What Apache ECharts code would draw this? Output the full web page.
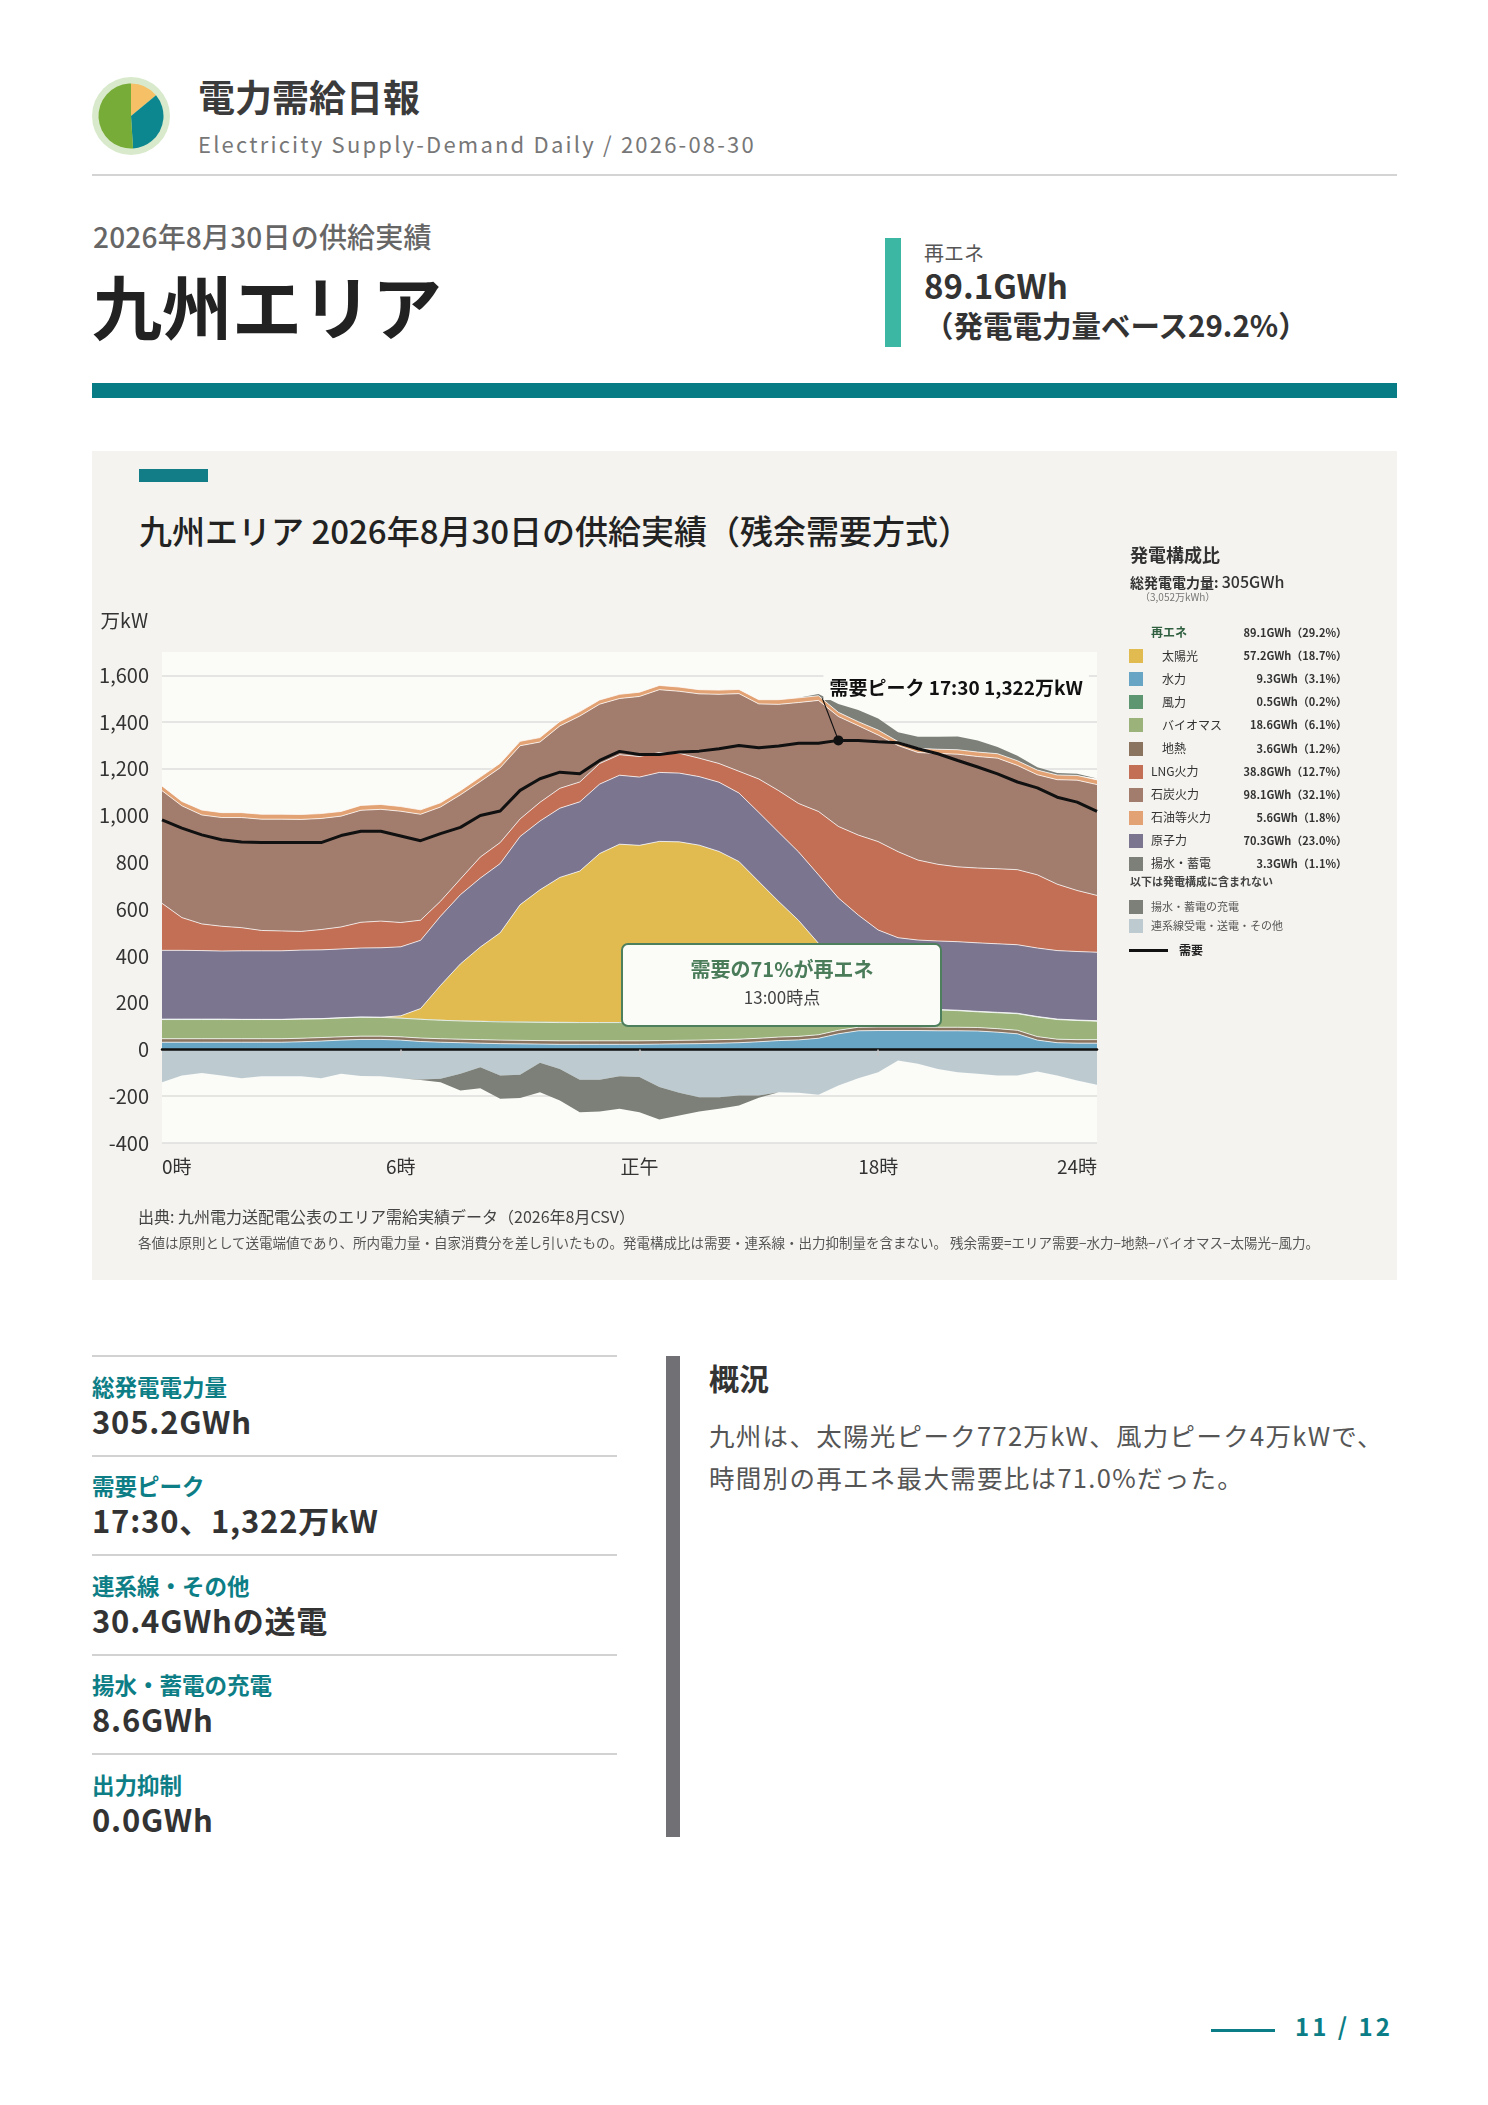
<!DOCTYPE html>
<html lang="ja">
<head>
<meta charset="utf-8">
<script src="https://cdn.jsdelivr.net/npm/echarts@6/dist/echarts.min.js"></script>
<style>
html,body{margin:0;padding:0;background:#fff;}
body{width:1488px;height:2105px;position:relative;overflow:hidden;font-family:"Noto Sans CJK JP","Noto Sans",sans-serif;color:#333;}
.a{position:absolute;white-space:nowrap;line-height:1;}
</style>
</head>
<body>
<!-- header -->
<div class="a" style="left:92px;top:77px;width:78px;height:78px;border-radius:50%;background:#d8eacb;"></div>
<div id="logo" class="a" style="left:91px;top:76px;width:80px;height:80px;"></div>
<div class="a" style="left:198px;top:78px;font-size:37px;font-weight:700;color:#3b3b3b;">電力需給日報</div>
<div class="a" style="left:198px;top:132px;font-size:22px;letter-spacing:2.2px;color:#777;">Electricity Supply-Demand Daily / 2026-08-30</div>
<div class="a" style="left:92px;top:174px;width:1305px;height:2px;background:#d4d4d4;"></div>
<div class="a" style="left:93px;top:222px;font-size:28px;letter-spacing:0.2px;font-weight:500;color:#666;">2026年8月30日の供給実績</div>
<div class="a" style="left:92px;top:270px;font-size:70px;font-weight:700;color:#222;">九州エリア</div>
<div class="a" style="left:885px;top:238px;width:16px;height:109px;background:#3bb7a4;"></div>
<div class="a" style="left:924px;top:243px;font-size:20px;color:#555;">再エネ</div>
<div class="a" style="left:924px;top:269px;font-size:33px;font-weight:700;color:#333;">89.1GWh</div>
<div class="a" style="left:924px;top:310px;font-size:29.5px;font-weight:700;color:#333;">（発電電力量ベース29.2%）</div>
<div class="a" style="left:92px;top:383px;width:1305px;height:15px;background:#077c84;"></div>

<!-- chart panel -->
<div class="a" style="left:92px;top:451px;width:1305px;height:829px;background:#f4f3ef;"></div>
<div class="a" style="left:139px;top:469px;width:69px;height:13px;background:#127d86;"></div>
<div class="a" style="left:139px;top:514px;font-size:33px;font-weight:500;color:#222;">九州エリア 2026年8月30日の供給実績（残余需要方式）</div>
<div id="chart" class="a" style="left:92px;top:455px;width:1305px;height:825px;"></div>
<div id="legend"></div>
<div class="a" style="left:138px;top:1208px;font-size:16px;color:#444;">出典: 九州電力送配電公表のエリア需給実績データ（2026年8月CSV）</div>
<div class="a" style="left:138px;top:1236px;font-size:13.5px;color:#555;">各値は原則として送電端値であり、所内電力量・自家消費分を差し引いたもの。発電構成比は需要・連系線・出力抑制量を含まない。 残余需要=エリア需要−水力−地熱−バイオマス−太陽光−風力。</div>

<!-- summary -->
<div id="summary"></div>
<div class="a" style="left:666px;top:1356px;width:14px;height:481px;background:#707075;"></div>
<div class="a" style="left:709px;top:1362px;font-size:30px;font-weight:700;color:#333;">概況</div>
<div class="a" style="left:709px;top:1414px;font-size:25.5px;line-height:42px;letter-spacing:1.3px;color:#555;">九州は、太陽光ピーク772万kW、風力ピーク4万kWで、<br>時間別の再エネ最大需要比は71.0%だった。</div>

<!-- footer -->
<div class="a" style="left:1211px;top:2029px;width:64px;height:3px;background:#0b7d86;"></div>
<div class="a" style="left:1295px;top:2014px;font-size:24px;font-weight:700;letter-spacing:3px;color:#0b7d86;">11 / 12</div>

<script>
// ---------- data ----------
const timeLabels = ['0:30','1:00','1:30','2:00','2:30','3:00','3:30','4:00','4:30','5:00','5:30','6:00',
  '6:30','7:00','7:30','8:00','8:30','9:00','9:30','10:00','10:30','11:00','11:30','12:00',
  '12:30','13:00','13:30','14:00','14:30','15:00','15:30','16:00','16:30','17:00','17:30','18:00',
  '18:30','19:00','19:30','20:00','20:30','21:00','21:30','22:00','22:30','23:00','23:30','24:00'];
const xTickIndex = [0, 12, 24, 36, 47];
const xTickText = ['0時', '6時', '正午', '18時', '24時'];

const hydro = [31,31,31,31,31,31,31,33,36,40,43,43,
  40,34,31,29,27,25,24,23,22,22,22,22,
  22,23,24,25,27,29,33,38,41,48,67,80,
  81,81,81,80,80,79,74,67,40,29,27,27];
const geothermal = [15,15,15,15,15,15,15,15,15,14,14,14,
  14,15,15,15,15,15,15,15,15,15,15,15,
  15,15,15,15,15,15,15,15,15,15,15,15,
  15,15,15,15,15,15,15,15,15,15,15,15];
const biomass = [82,82,82,82,82,82,82,82,80,81,81,80,
  80,80,79,78,78,78,78,78,78,78,78,78,
  78,78,78,78,78,78,78,78,78,78,78,78,
  78,78,76,74,71,67,68,71,84,84,82,79];
const wind = [2,2,2,2,1,1,1,1,1,1,1,1,
  2,2,2,2,3,3,3,4,4,3,3,3,
  2,2,2,2,2,2,2,2,3,3,3,3,
  2,2,2,2,2,2,2,2,2,2,2,2];
const solar = [0,0,0,0,0,0,0,0,0,0,0,0,
  8,44,147,242,315,378,499,563,617,645,720,760,
  756,772,769,754,725,680,590,500,415,310,191,105,
  41,8,0,0,0,0,0,0,0,0,0,0];
const nuclear = [294,294,293,291,293,293,293,294,294,294,295,297,
  295,292,296,296,295,296,292,294,296,296,297,295,
  292,295,294,293,296,293,296,296,293,293,294,294,
  294,294,294,293,293,293,293,293,293,293,293,293];
const lng = [201,140,114,106,99,87,85,80,87,94,110,114,
  104,86,64,67,90,90,75,80,85,85,88,88,
  88,85,85,79,80,93,143,178,207,271,306,342,
  378,368,342,328,320,320,321,321,313,284,261,243];
const coal = [482,478,466,465,471,476,478,479,475,474,479,478,
  476,453,403,360,323,320,313,258,267,282,254,240,
  257,269,265,275,296,332,321,369,432,475,470,468,
  456,454,460,474,482,477,473,446,428,447,472,474];
const oil = [20,19,21,21,21,21,21,21,21,20,21,21,
  20,19,18,18,19,19,19,19,19,19,18,18,
  18,18,18,18,18,18,18,20,20,20,18,17,
  21,17,18,18,19,19,19,20,20,20,20,20];
const discharge = [0,0,0,0,0,0,0,0,0,0,0,0,
  0,0,0,0,0,0,0,0,0,0,0,0,
  0,0,0,0,0,0,0,0,0,7,36,50,
  50,40,50,54,57,50,29,21,12,8,7,6];
const interconnect = [-140,-111,-101,-111,-123,-115,-115,-115,-123,-104,-113,-115,
  -123,-128,-125,-104,-76,-111,-108,-57,-83,-130,-130,-114,
  -118,-161,-185,-204,-204,-197,-197,-183,-185,-194,-154,-123,
  -97,-47,-61,-83,-97,-104,-111,-111,-94,-111,-133,-151];
const charge = [0,0,0,0,0,0,0,0,0,0,0,0,
  0,-3,-15,-71,-90,-100,-100,-126,-135,-138,-135,-140,
  -150,-138,-97,-61,-50,-43,-10,0,0,0,0,0,
  0,0,0,0,0,0,0,0,0,0,0,0];
const demand = [982,947,918,897,887,885,885,885,885,915,933,933,
  913,893,923,950,1001,1020,1108,1158,1186,1179,1236,1275,
  1262,1262,1272,1276,1286,1300,1290,1298,1310,1310,1322,1321,
  1316,1312,1286,1265,1236,1208,1179,1144,1119,1079,1058,1018];

const legendNames = ['再エネ','太陽光','水力','風力','バイオマス','地熱','LNG火力','石炭火力','石油等火力','原子力','揚水・蓄電'];
const legendValues = ['89.1GWh（29.2%）','57.2GWh（18.7%）','9.3GWh（3.1%）','0.5GWh（0.2%）','18.6GWh（6.1%）','3.6GWh（1.2%）','38.8GWh（12.7%）','98.1GWh（32.1%）','5.6GWh（1.8%）','70.3GWh（23.0%）','3.3GWh（1.1%）'];
const legendSub = [false,true,true,true,true,true,false,false,false,false,false];
const extraNames = ['揚水・蓄電の充電','連系線受電・送電・その他'];

const summaryLabels = ['総発電電力量','需要ピーク','連系線・その他','揚水・蓄電の充電','出力抑制'];
const summaryValues = ['305.2GWh','17:30、1,322万kW','30.4GWhの送電','8.6GWh','0.0GWh'];

const logoShares = [14, 35, 51];

// ---------- colors ----------
const C = {
  solar:'#e1bb4f', hydro:'#68a4c3', wind:'#5e9672', biomass:'#9bb27a', geo:'#8a735f',
  lng:'#c36f55', coal:'#a27d6e', oil:'#e3a273', nuclear:'#7b7590', pumped:'#7c8078', inter:'#bdcbd1'
};
const legendColors = [null, C.solar, C.hydro, C.wind, C.biomass, C.geo, C.lng, C.coal, C.oil, C.nuclear, C.pumped];
const extraColors = [C.pumped, C.inter];

const FONT = '"Noto Sans CJK JP", "Noto Sans", sans-serif';

// ---------- legend (HTML) ----------
(function(){
  let h = '';
  h += '<div class="a" style="left:1130px;top:545px;font-size:18px;font-weight:700;color:#333;">発電構成比</div>';
  h += '<div class="a" style="left:1130px;top:573px;font-size:14px;font-weight:700;color:#333;">総発電電力量: <span style="font-size:16px;font-weight:500;">305GWh</span></div>';
  h += '<div class="a" style="left:1140px;top:592px;font-size:10px;color:#777;">（3,052万kWh）</div>';
  legendNames.forEach((n, i) => {
    const cy = 633 + i * 23.1;
    if (legendColors[i]) h += `<div class="a" style="left:1129px;top:${cy-7}px;width:14px;height:14px;background:${legendColors[i]};"></div>`;
    const isRe = i === 0;
    h += `<div class="a" style="left:${legendSub[i]?1162:1151}px;top:${cy-6.6}px;font-size:12px;${isRe?'font-weight:700;color:#2f5f3f;':'color:#333;'}">${n}</div>`;
    h += `<div class="a" style="left:1197px;width:150px;text-align:right;top:${cy-6}px;font-size:11px;font-weight:600;color:#333;">${legendValues[i]}</div>`;
  });
  h += '<div class="a" style="left:1130px;top:876px;font-size:11px;font-weight:700;color:#444;">以下は発電構成に含まれない</div>';
  extraNames.forEach((n, i) => {
    const cy = 906.7 + i * 19;
    h += `<div class="a" style="left:1129px;top:${cy-7}px;width:14px;height:14px;background:${extraColors[i]};"></div>`;
    h += `<div class="a" style="left:1151px;top:${cy-6}px;font-size:11px;color:#555;">${n}</div>`;
  });
  h += '<div class="a" style="left:1129px;top:949px;width:39px;height:3px;background:#111;"></div>';
  h += '<div class="a" style="left:1179px;top:944px;font-size:12px;font-weight:700;color:#222;">需要</div>';
  document.getElementById('legend').innerHTML = h;

  let s = '';
  summaryLabels.forEach((l, i) => {
    const t = 1355 + i * 99.5;
    s += `<div class="a" style="left:92px;top:${t}px;width:525px;height:2px;background:#d2d2d2;"></div>`;
    s += `<div class="a" style="left:92px;top:${t+19.5}px;font-size:22.5px;font-weight:700;color:#0d7e86;">${l}</div>`;
    s += `<div class="a" style="left:92px;top:${t+49.5}px;font-size:31px;letter-spacing:0.8px;font-weight:700;color:#333;">${summaryValues[i]}</div>`;
  });
  document.getElementById('summary').innerHTML = s;
})();

// ---------- logo pie ----------
const logo = echarts.init(document.getElementById('logo'), null, {renderer:'canvas'});
logo.setOption({
  animation:false,
  series:[{type:'pie', radius:[0, 32.5], center:['50%','50%'], startAngle:90, silent:true,
    label:{show:false}, labelLine:{show:false},
    data:[
      {value:logoShares[0], itemStyle:{color:'#f6c066'}},
      {value:logoShares[1], itemStyle:{color:'#0c8790'}},
      {value:logoShares[2], itemStyle:{color:'#78ac38'}}
    ]}]
});

// ---------- main chart ----------
const chart = echarts.init(document.getElementById('chart'), null, {renderer:'canvas'});
function area(name, data, color, stack, lineW) {
  return {
    name, type:'line', stack, data, symbol:'none', showSymbol:false,
    lineStyle:{width: lineW === undefined ? 1 : lineW, color:'rgba(255,255,255,0.75)'},
    areaStyle:{color, opacity:1}, itemStyle:{color},
    emphasis:{disabled:true}, silent:true, z:2
  };
}
const showTick = (idx) => xTickIndex.indexOf(idx) >= 0;
const peakIdx = demand.indexOf(Math.max(...demand));

chart.setOption({
  animation:false,
  textStyle:{fontFamily:FONT},
  grid:{left:70, right:300, top:197, bottom:137, show:true, backgroundColor:'#fbfbf8', borderWidth:0},
  xAxis:{
    type:'category', boundaryGap:false, data:timeLabels, z:10,
    axisLine:{onZero:true, lineStyle:{color:'#111', width:2.5}},
    axisTick:{show:true, length:6, interval:(i) => i > 0 && i < 47 && showTick(i), lineStyle:{color:'#c8c8c8', width:1.5}},
    axisLabel:{interval:(i) => showTick(i), formatter:(v, i) => xTickText[xTickIndex.indexOf(i)],
      margin:14, fontSize:19, color:'#333', fontFamily:FONT, alignMinLabel:'left', alignMaxLabel:'right'},
    splitLine:{show:false}
  },
  yAxis:{
    type:'value', min:-400, max:1700, interval:200,
    name:'万kW', nameLocation:'end', nameGap:22,
    nameTextStyle:{align:'right', fontSize:19.5, color:'#333', padding:[0,14,0,0], fontFamily:FONT},
    axisLine:{show:false}, axisTick:{show:false},
    axisLabel:{showMaxLabel:false, fontSize:20, color:'#333', margin:13, fontFamily:FONT,
      formatter:(v) => v.toLocaleString('en-US')},
    splitLine:{showMaxLine:false, lineStyle:{color:'#dedede', width:1.5}}
  },
  series:[
    area('水力', hydro, C.hydro, 'pos'),
    area('地熱', geothermal, C.geo, 'pos'),
    area('バイオマス', biomass, C.biomass, 'pos'),
    area('風力', wind, C.wind, 'pos', 0),
    area('太陽光', solar, C.solar, 'pos'),
    area('原子力', nuclear, C.nuclear, 'pos'),
    area('LNG火力', lng, C.lng, 'pos'),
    area('石炭火力', coal, C.coal, 'pos'),
    area('石油等火力', oil, C.oil, 'pos'),
    area('揚水・蓄電', discharge, C.pumped, 'pos', 0),
    area('連系線', interconnect, C.inter, 'neg', 0),
    area('揚水・蓄電の充電', charge, C.pumped, 'neg', 0),
    {
      name:'需要', type:'line', data:demand, symbol:'none', showSymbol:false, silent:true, z:5,
      lineStyle:{color:'#111', width:3}, itemStyle:{color:'#111'},
      markPoint:{symbol:'circle', symbolSize:10, itemStyle:{color:'#111'}, label:{show:false}, silent:true,
        data:[{coord:[peakIdx, demand[peakIdx]]}]}
    }
  ]
});

const p = chart.convertToPixel({xAxisIndex:0, yAxisIndex:0}, [peakIdx, demand[peakIdx]]);
const peakText = '需要ピーク ' + timeLabels[peakIdx] + ' ' + demand[peakIdx].toLocaleString('en-US') + '万kW';
chart.setOption({
  graphic:[
    {type:'line', z:50, silent:true, shape:{x1:p[0], y1:p[1], x2:p[0]-16, y2:p[1]-42}, style:{stroke:'#111', lineWidth:1.2}},
    {type:'text', z:60, silent:true, x:p[0]-15, y:p[1]-53,
      style:{text:peakText, font:'bold 19px ' + FONT, fill:'#111', align:'left', verticalAlign:'middle',
        backgroundColor:'#fbfbf8', padding:[3,6,3,6]}},
    {type:'rect', z:60, silent:true, shape:{x:530, y:489, width:319, height:82, r:6},
      style:{fill:'#fbfbf8', stroke:'#4d7f5c', lineWidth:2}},
    {type:'text', z:61, silent:true, x:690, y:514,
      style:{text:'需要の71%が再エネ', font:'bold 20px ' + FONT, fill:'#4a7c5a', align:'center', verticalAlign:'middle'}},
    {type:'text', z:61, silent:true, x:690, y:543,
      style:{text:'13:00時点', font:'17px ' + FONT, fill:'#444', align:'center', verticalAlign:'middle'}}
  ]
});
</script>
</body>
</html>
